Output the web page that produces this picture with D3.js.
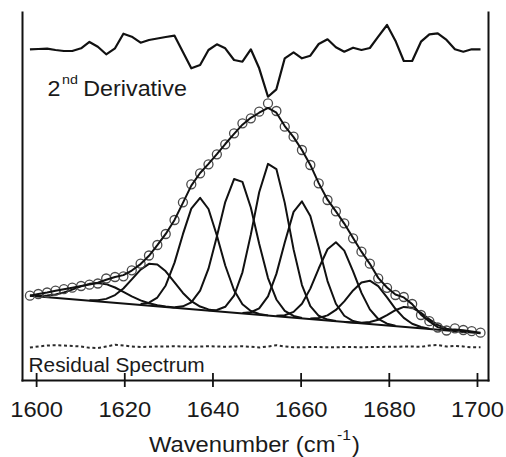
<!DOCTYPE html>
<html>
<head>
<meta charset="utf-8">
<script src="https://cdn.jsdelivr.net/npm/d3@7"></script>
<style>
  html, body { margin: 0; padding: 0; background: #fff; }
  svg { display: block; font-family: "Liberation Sans", Arial, Helvetica, sans-serif; }
</style>
</head>
<body>
<svg id="chart" width="506" height="457"></svg>
<script>
// Amide I region: measured points, fitted envelope, component bands,
// second-derivative trace and fit residual (intensity in arbitrary units, offsets for display).
const wavenumber = [1598.6, 1600.5, 1602.5, 1604.4, 1606.3, 1608.2, 1610.2, 1612.1, 1614.0, 1615.9,
  1617.9, 1619.8, 1621.7, 1623.7, 1625.6, 1627.5, 1629.4, 1631.4, 1633.3, 1635.2,
  1637.2, 1639.1, 1641.0, 1642.9, 1644.9, 1646.8, 1648.7, 1650.6, 1652.6, 1654.5,
  1656.4, 1658.4, 1660.3, 1662.2, 1664.1, 1666.1, 1668.0, 1669.9, 1671.9, 1673.8,
  1675.7, 1677.6, 1679.6, 1681.5, 1683.4, 1685.3, 1687.3, 1689.2, 1691.1, 1693.1,
  1695.0, 1696.9, 1698.8, 1700.8];

const measured = [16.65, 17.39, 18.04, 18.83, 19.48, 20.13, 20.87, 21.43, 21.96, 24.13,
  24.78, 25.09, 27.70, 30.57, 34.13, 38.70, 43.48, 49.57, 57.26, 65.09,
  69.87, 73.78, 78.13, 82.48, 87.26, 91.61, 93.78, 96.65, 100.30, 96.96,
  90.13, 85.78, 80.00, 73.48, 65.52, 58.26, 53.35, 48.13, 41.61, 35.78,
  30.57, 24.22, 20.09, 16.96, 16.09, 13.04, 8.26, 5.57, 2.83, 1.52,
  2.48, 1.74, 1.22, 0.57];

const fitted = [16.65, 17.35, 18.04, 18.80, 19.48, 20.13, 20.87, 21.50, 22.30, 23.60,
  24.80, 25.60, 27.60, 30.40, 34.00, 38.60, 43.50, 49.60, 57.00, 64.50,
  70.00, 74.00, 78.20, 82.60, 87.00, 91.00, 94.00, 96.20, 98.30, 96.20,
  90.40, 85.60, 80.00, 73.50, 65.60, 58.40, 53.30, 48.00, 41.70, 35.80,
  30.50, 24.40, 20.20, 17.20, 15.90, 13.00, 8.40, 5.50, 3.00, 1.80,
  2.00, 1.60, 1.10, 0.57];

// linear baseline, value at the first and last wavenumber
const baseline = [16.65, 0.30];

// component bands: first grid index and values (baseline included)
const bandStart = [0, 7, 13, 17, 21, 25, 29, 33, 37];
const bandValues = [
  [16.77, 16.66, 16.78, 17.21, 18.07, 19.28, 20.71, 21.80, 22.18, 21.66, 20.22, 18.30, 16.36, 14.63, 13.38, 12.52, 11.92, 11.48],
  [14.65, 14.69, 15.27, 16.92, 19.78, 23.73, 27.99, 30.51, 30.24, 27.24, 22.45, 17.84, 14.27, 11.94, 10.71, 10.03],
  [13.00, 13.61, 15.85, 21.11, 31.02, 43.40, 54.49, 59.18, 54.35, 42.82, 29.77, 19.03, 12.97, 10.00, 8.70, 8.10],
  [11.64, 12.02, 13.79, 18.87, 28.39, 42.39, 57.38, 67.38, 66.16, 54.98, 39.20, 24.32, 15.01, 10.07, 7.85, 6.97],
  [10.30, 10.46, 11.83, 16.64, 26.81, 43.20, 61.63, 73.97, 71.71, 57.01, 36.79, 21.26, 12.13, 7.92, 6.26, 5.63],
  [9.13, 9.45, 11.17, 16.37, 26.14, 39.79, 53.09, 57.65, 51.34, 37.82, 22.99, 13.16, 7.93, 5.63, 4.78],
  [7.90, 8.16, 9.61, 13.17, 19.73, 28.47, 36.86, 39.90, 36.24, 27.23, 17.88, 10.70, 6.53, 4.46, 3.59],
  [6.73, 6.97, 8.09, 10.46, 14.20, 18.93, 22.36, 23.18, 20.79, 15.92, 10.96, 6.98, 4.46, 3.03, 2.33],
  [5.25, 5.00, 4.90, 5.20, 6.20, 8.18, 10.35, 11.78, 11.43, 9.20, 6.37, 3.95, 2.33, 1.48, 0.98]
];

// second derivative (offset above the spectrum)
const derivative = [123.78, 123.91, 124.04, 123.48, 123.04, 123.04, 124.22, 126.96, 124.91, 121.61,
  124.22, 130.57, 129.26, 126.65, 127.83, 128.48, 129.13, 129.70, 122.61, 115.52,
  116.96, 123.48, 125.96, 124.22, 119.13, 118.39, 123.78, 115.52, 103.17, 106.39,
  119.87, 122.48, 119.87, 121.00, 126.09, 128.13, 124.65, 122.74, 124.48, 123.48,
  124.35, 129.26, 134.35, 127.52, 118.70, 118.70, 127.09, 130.30, 130.74, 127.83,
  123.78, 122.74, 123.78, 123.78];

// residual (offset below the spectrum)
const residual = [-5.87, -5.43, -5.00, -4.87, -5.00, -5.22, -5.43, -6.00, -6.09, -5.43,
  -4.70, -5.00, -5.43, -5.65, -5.57, -5.43, -5.43, -5.35, -5.43, -5.57,
  -5.43, -5.35, -5.43, -5.57, -5.43, -5.35, -5.57, -5.87, -5.43, -4.87,
  -5.43, -5.78, -5.78, -5.65, -5.65, -5.78, -5.78, -5.65, -5.65, -5.78,
  -5.65, -5.65, -5.57, -5.57, -5.43, -5.43, -5.57, -5.00, -4.78, -5.43,
  -5.13, -5.43, -5.78, -5.78];

const xTicks = [1600, 1620, 1640, 1660, 1680, 1700];

const svg = d3.select('#chart');
const ink = '#111';

const x = d3.scaleLinear().domain([1596.8, 1702.5]).range([22, 488]);
const y = d3.scaleLinear().domain([-20, 140]).range([380, 12]);

const line = d3.line().x(d => x(d[0])).y(d => y(d[1]));
const pairs = vals => vals.map((v, i) => [wavenumber[i], v]);

const plot = svg.append('g');

// baseline
plot.append('path')
  .datum([[wavenumber[0], baseline[0]], [wavenumber[wavenumber.length - 1], baseline[1]]])
  .attr('d', line)
  .attr('fill', 'none').attr('stroke', ink).attr('stroke-width', 2);

// component bands
plot.selectAll('path.band')
  .data(bandValues.map((vals, k) => vals.map((v, j) => [wavenumber[bandStart[k] + j], v])))
  .join('path')
  .attr('class', 'band')
  .attr('d', line)
  .attr('fill', 'none').attr('stroke', ink).attr('stroke-width', 2)
  .attr('stroke-linejoin', 'round');

// measured points
plot.selectAll('circle.pt')
  .data(pairs(measured))
  .join('circle')
  .attr('class', 'pt')
  .attr('cx', d => x(d[0])).attr('cy', d => y(d[1]))
  .attr('r', 4.5)
  .attr('fill', 'none').attr('stroke', '#4a4a4a').attr('stroke-width', 1.3);

// fitted envelope
plot.append('path')
  .datum(pairs(fitted))
  .attr('d', line)
  .attr('fill', 'none').attr('stroke', ink).attr('stroke-width', 2)
  .attr('stroke-linejoin', 'round');

// second derivative
plot.append('path')
  .datum(pairs(derivative))
  .attr('d', line)
  .attr('fill', 'none').attr('stroke', ink).attr('stroke-width', 2.2)
  .attr('stroke-linejoin', 'round');

// residual
plot.append('path')
  .datum(pairs(residual))
  .attr('d', line)
  .attr('fill', 'none').attr('stroke', '#2a2a2a').attr('stroke-width', 2)
  .attr('stroke-dasharray', '3,2.7');

// axes frame
const frame = g => g.select('.domain').attr('stroke', ink).attr('stroke-width', 2).attr('stroke-linecap', 'square');

svg.append('g')
  .attr('transform', 'translate(22,0)')
  .call(d3.axisLeft(y).tickValues([]).tickSizeOuter(0))
  .call(frame);

svg.append('g')
  .attr('transform', 'translate(488,0)')
  .call(d3.axisRight(y).tickValues([]).tickSizeOuter(0))
  .call(frame);

const xAxis = svg.append('g')
  .attr('transform', 'translate(0,380)')
  .call(d3.axisBottom(x).tickValues(xTicks).tickSizeOuter(0).tickFormat(d3.format('d')))
  .call(frame);

xAxis.selectAll('.tick line')
  .attr('y1', -7).attr('y2', 7)
  .attr('stroke', ink).attr('stroke-width', 1.8);

xAxis.selectAll('.tick text')
  .attr('y', 36.8).attr('dy', 0)
  .attr('fill', '#1a1a1a')
  .attr('font-size', 22)
  .attr('font-family', '"Liberation Sans", Arial, sans-serif')
  .attr('transform', 'scale(1.08,1)');

// text helper with a slightly wide set
function label(xp, yp, sx, anchor) {
  return svg.append('text')
    .attr('transform', `translate(${xp},${yp}) scale(${sx},1)`)
    .attr('text-anchor', anchor)
    .attr('fill', '#1a1a1a');
}

const title = label(149, 452.3, 1.08, 'start').attr('font-size', 22);
title.append('tspan').text('Wavenumber (cm');
title.append('tspan').attr('font-size', 14.5).attr('dy', -12).attr('dx', 1.5).text('-1');
title.append('tspan').attr('dy', 12).attr('dx', 1).text(')');

const deriv = label(47.5, 96, 1.06, 'start').attr('font-size', 22);
deriv.append('tspan').text('2');
deriv.append('tspan').attr('font-size', 13.5).attr('dy', -12.5).attr('dx', 1.5).text('nd');
deriv.append('tspan').attr('dy', 12.5).attr('dx', 5).text('Derivative');

label(28.5, 371.5, 1.07, 'start').attr('font-size', 19.5).text('Residual Spectrum');
</script>
</body>
</html>
